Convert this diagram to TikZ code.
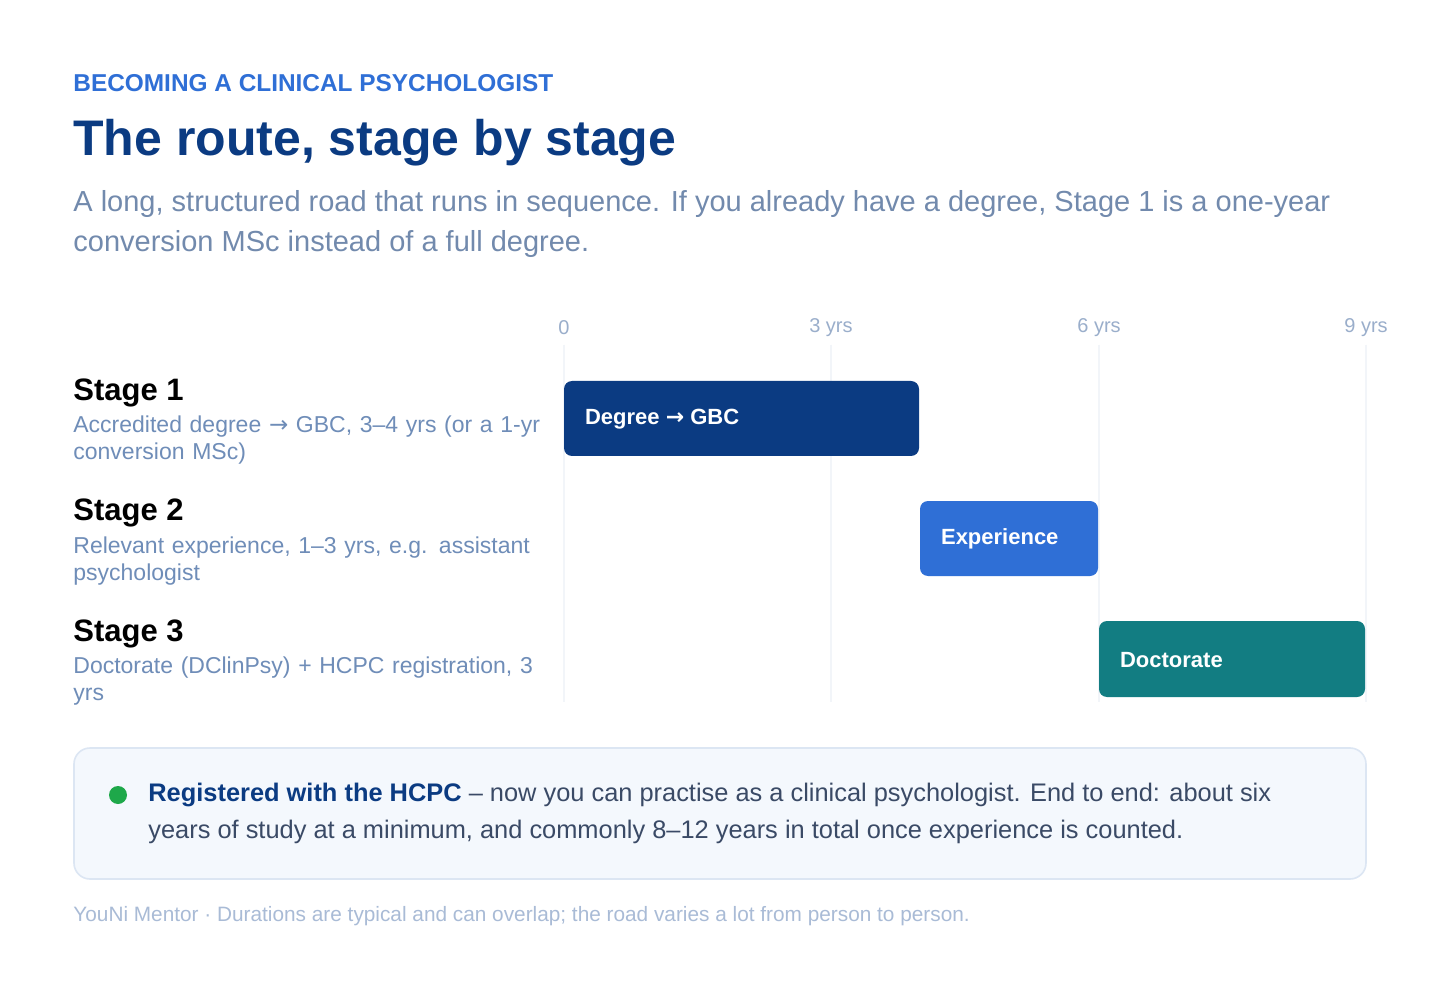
\documentclass[tikz,border=0pt]{standalone}
\usepackage{fontspec}
\setmainfont{Liberation Sans}
\newfontfamily\symf{DejaVu Sans}
\definecolor{navy}{HTML}{0B3B82}
\definecolor{accent}{HTML}{2F6FD6}
\definecolor{teal2}{HTML}{127D82}
\definecolor{muted}{HTML}{6F8DB8}
\definecolor{tick}{HTML}{9AAECB}
\definecolor{gridc}{HTML}{F2F5F9}
\definecolor{boxfill}{HTML}{F4F8FD}
\definecolor{boxline}{HTML}{DCE6F3}
\definecolor{textc}{HTML}{3A4A66}
\definecolor{foot}{HTML}{A9BBD6}
\definecolor{dotc}{HTML}{1EA84A}
\newcommand{\arr}{{\symf\char"2192}}
\begin{document}
\begin{tikzpicture}[x=0.5pt,y=-0.5pt,
  bar/.style={rounded corners=4pt,anchor=north west},
  bartxt/.style={anchor=west,text=white,font=\fontsize{11}{13}\selectfont\bfseries},
  stage/.style={anchor=north west,text=black,font=\fontsize{15.5}{18}\selectfont\bfseries},
  desc/.style={anchor=north west,text=muted,align=left,text width=245pt,font=\fontsize{11.5}{13.5}\selectfont},
  tk/.style={text=tick,font=\fontsize{10}{12}\selectfont}]
\useasboundingbox (0,0) rectangle (1440,989);
\fill[white] (0,0) rectangle (1440,989);
\node[anchor=west,inner sep=0pt,text=accent,font=\fontsize{12.2}{15}\selectfont\bfseries] (kick) at (73,83) {BECOMING A CLINICAL PSYCHOLOGIST};
\node[anchor=west,inner sep=0pt,text=navy,font=\fontsize{25}{30}\selectfont\bfseries] (title) at (73,143) {The route, stage by stage};
\node[anchor=north west,text=muted!80!gray,align=left,font=\fontsize{14.5}{20}\selectfont,inner sep=0pt] (sub) at (73,190) {A long, structured road that runs in sequence. If you already have a degree, Stage 1 is a one-year\\conversion MSc instead of a full degree.};
% grid
\foreach \x/\l [count=\i] in {564/0,831/3 yrs,1099/6 yrs,1366/9 yrs}{
  \draw[gridc,line width=0.6pt] (\x,345) -- (\x,702);
  \node[tk] (t\i) at (\x,328) {\l};}
% stages
\node[stage,inner sep=0pt] (s1) at (73,378) {Stage 1};
\node[desc,inner sep=0pt] (d1) at (73,415) {Accredited degree \arr\ GBC, 3--4 yrs (or a 1-yr conversion MSc)};
\node[stage,inner sep=0pt] (s2) at (73,498) {Stage 2};
\node[desc,inner sep=0pt,text width=240pt] (d2) at (73,536) {Relevant experience, 1--3 yrs, e.g. assistant psychologist};
\node[stage,inner sep=0pt] (s3) at (73,619) {Stage 3};
\node[desc,inner sep=0pt] (d3) at (73,656) {Doctorate (DClinPsy) + HCPC registration, 3 yrs};
% bars
\fill[navy,bar] (564,381) rectangle (919,456);
\node[bartxt] (b1) at (578,419) {Degree \arr\ GBC};
\fill[accent,bar] (920,501) rectangle (1098,576);
\node[bartxt] (b2) at (934,539) {Experience};
\fill[teal2,bar] (1099,621) rectangle (1365,697);
\node[bartxt] (b3) at (1113,660) {Doctorate};
% callout
\draw[boxline,fill=boxfill,rounded corners=8pt,line width=0.8pt] (74,748) rectangle (1366,879);
\fill[dotc] (118,795) circle (9);
\node[anchor=north west,inner sep=0pt,align=left,text=textc,font=\fontsize{12.7}{18.5}\selectfont] (c) at (148,783) {{\color{navy}\bfseries Registered with the HCPC} -- now you can practise as a clinical psychologist. End to end: about six\\years of study at a minimum, and commonly 8--12 years in total once experience is counted.};
\node[anchor=west,inner sep=0pt,text=foot,font=\fontsize{10.4}{12}\selectfont] (f) at (73,916) {YouNi Mentor · Durations are typical and can overlap; the road varies a lot from person to person.};
\end{tikzpicture}
\end{document}
